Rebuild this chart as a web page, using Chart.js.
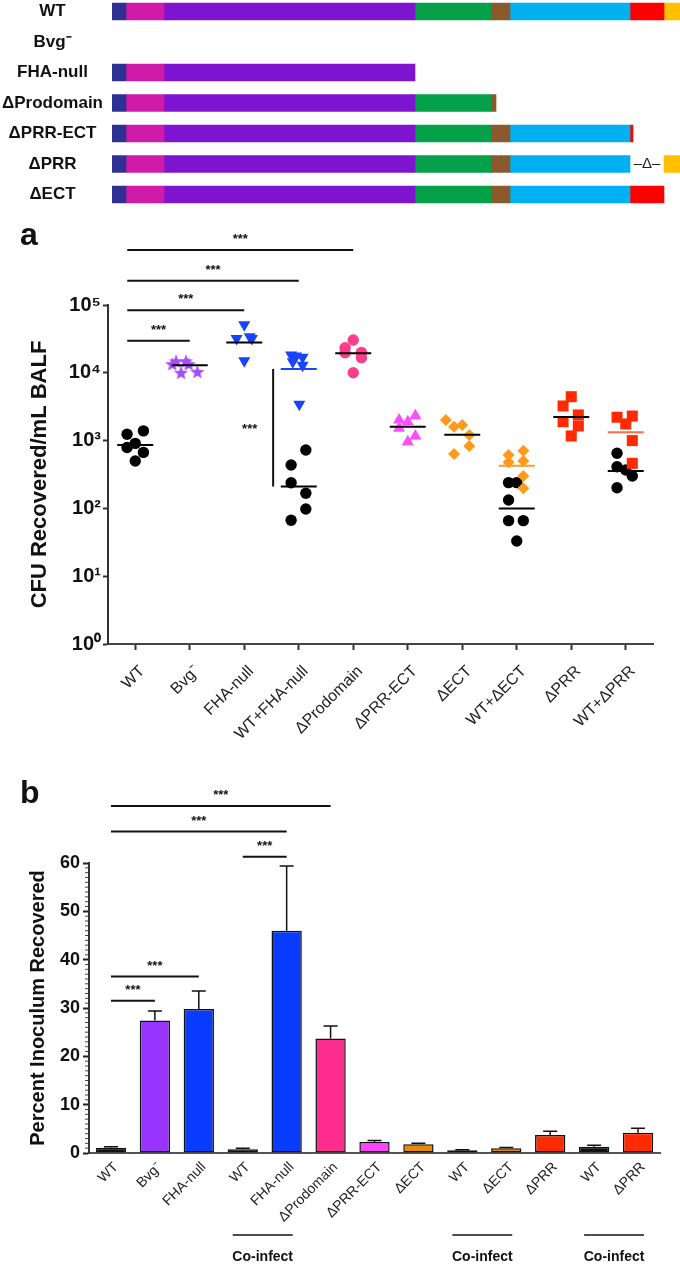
<!DOCTYPE html>
<html>
<head>
<meta charset="utf-8">
<script src="https://cdn.jsdelivr.net/npm/chart.js@4.4.0/dist/chart.umd.min.js"></script>
<style>
  body { margin: 0; background: #fff; width: 680px; height: 1264px; position: relative; overflow: hidden; }
  .box { position: absolute; left: 0; width: 680px; }
  .letter { position: absolute; font: bold 32px Arial, "Liberation Sans", sans-serif; line-height: 32px; color: #111; }
</style>
</head>
<body>
<div class="box" style="top:-23px;height:252px"><canvas id="domainChart" width="680" height="252"></canvas></div>
<div class="box" style="top:210px;height:545px"><canvas id="cfuChart" width="680" height="545"></canvas></div>
<div class="box" style="top:760px;height:504px"><canvas id="percentChart" width="680" height="504"></canvas></div>
<div class="letter" style="left:20px;top:218px">a</div>
<div class="letter" style="left:20px;top:776px">b</div>
<script>
// ---- domain map (top) ----
const constructs = ['WT', 'Bvg⁻', 'FHA-null', 'ΔProdomain', 'ΔPRR-ECT', 'ΔPRR', 'ΔECT'];
const signalSeg = [14, 0, 14, 14, 14, 14, 14];
const tpsSeg    = [38, 0, 38, 38, 38, 38, 38];
const fhaSeg    = [251, 0, 251, 251, 251, 251, 251];
const mcdSeg    = [76, 0, 0, 76, 76, 76, 76];
const pntSeg    = [19, 0, 0, 5, 19, 19, 19];
const prodSeg   = [120, 0, 0, 0, 120, 120, 120];
const prrSeg    = [34, 0, 0, 0, 3, 34, 34];
const ectSeg    = [16, 0, 0, 0, 0, 16, 0];
const prrDeleted = [false, false, false, false, false, true, false];

// ---- panel a: CFU recovered / mL BALF ----
const cfuLabels = ['WT', 'Bvg⁻', 'FHA-null', 'WT+FHA-null', 'ΔProdomain', 'ΔPRR-ECT', 'ΔECT', 'WT+ΔECT', 'ΔPRR', 'WT+ΔPRR'];
const cfuTicks = [1, 10, 100, 1000, 10000, 100000];

const wtCfu = [1240, 1390, 790, 910, 670, 500];
const wtJit = [-0.15, 0.15, -0.15, 0, 0.15, 0];
const bvgCfu = [14800, 14800, 13400, 13400, 10000, 10300];
const bvgJit = [-0.25, -0.07, -0.32, -0.02, -0.16, 0.14];
const fhaCfu = [51000, 32000, 32000, 15000, 34000];
const fhaJit = [0, -0.14, 0.14, 0, 0.1];
const coFhaMutCfu = [18300, 17700, 16900, 14600, 12900, 3430];
const coFhaMutJit = [-0.14, -0.05, 0.07, -0.11, 0.07, 0.01];
const coFhaWtCfu = [727, 437, 239, 167, 98, 67];
const coFhaWtJit = [0.13, -0.14, -0.14, 0.13, 0.13, -0.14];
const prodCfu = [30500, 23400, 19800, 20000, 16700, 10000];
const prodJit = [0, -0.15, -0.15, 0.15, 0.15, 0];
const prrEctCfu = [2330, 2010, 1900, 1520, 1170, 964];
const prrEctJit = [0.14, -0.16, 0, -0.16, 0.14, 0];
const ectCfu = [2010, 1600, 1700, 1210, 832, 634];
const ectJit = [-0.3, -0.15, 0, 0.13, 0.13, -0.15];
const coEctMutCfu = [613, 709, 478, 500, 300, 198];
const coEctMutJit = [-0.15, 0.12, -0.15, 0.12, 0.12, 0.12];
const coEctWtCfu = [240, 240, 133, 66, 66, 33];
const coEctWtJit = [-0.15, 0, -0.15, -0.15, 0.12, 0];
const prrCfu = [4440, 3240, 2390, 1900, 1640, 1170];
const prrJit = [0, -0.15, 0.13, -0.15, 0.13, 0];
const coPrrMutCfu = [2210, 2300, 1760, 1000, 462];
const coPrrMutJit = [-0.16, 0.12, 0, 0.12, 0.12];
const coPrrWtCfu = [650, 412, 368, 300, 202];
const coPrrWtJit = [-0.16, -0.16, 0, 0.12, -0.16];

const cfuGroups  = [0, 1, 2, 3, 3, 4, 5, 6, 7, 7, 8, 9, 9];
const cfuMedians = [860, 12900, 28000, 11400, 210, 19400, 1600, 1220, 425, 100, 2230, 1325, 355];

// significance brackets (group from, group to, height in CFU)
const cfuSigFrom = [0, 0, 0, 0];
const cfuSigTo = [1, 2, 3, 4];
const cfuSigLevel = [29700, 84000, 228000, 650000];

// ---- panel b: percent inoculum recovered ----
const pctLabels = ['WT', 'Bvg⁻', 'FHA-null', 'WT', 'FHA-null', 'ΔProdomain', 'ΔPRR-ECT', 'ΔECT', 'WT', 'ΔECT', 'ΔPRR', 'WT', 'ΔPRR'];
const pctMeans = [1.1, 27.4, 29.8, 0.8, 46.0, 23.7, 2.3, 1.8, 0.55, 1.0, 3.7, 1.3, 4.2];
const pctSem   = [0.2, 2.0, 3.7, 0.2, 13.4, 2.6, 0.3, 0.2, 0.1, 0.15, 0.8, 0.3, 0.9];
const pctSigFrom = [0, 0, 3, 0, 0];
const pctSigTo = [5, 4, 4, 2, 1];
const pctSigLevel = [71.8, 66.5, 61.3, 36.5, 31.5];
const coInfectPairs = [[3, 4], [8, 9], [11, 12]];

Chart.defaults.font.family = 'Arial, "Liberation Sans", sans-serif';
Chart.defaults.color = '#111';
Chart.defaults.animation = false;
Chart.defaults.plugins.legend.display = false;
Chart.defaults.plugins.tooltip.enabled = false;

const domainColors = ['#2e3192', '#d01aa8', '#7f14d0', '#05a04a', '#8b5a2c', '#00b0f0', '#ff0000', '#ffc000'];
const domainNames = ['Signal', 'TPS', 'FHA', 'MCD', 'PNT', 'Prodomain', 'PRR', 'ECT'];
const domainSegments = [signalSeg, tpsSeg, fhaSeg, mcdSeg, pntSeg, prodSeg, prrSeg, ectSeg];

const gapLabel = {
    id: 'gapLabel',
    afterDatasetsDraw(chart) {
        const ctx = chart.ctx;
        const meta = chart.getDatasetMeta(6);
        prrDeleted.forEach((del, i) => {
            if (!del) return;
            const el = meta.data[i];
            ctx.save();
            ctx.font = '15px Arial, "Liberation Sans", sans-serif';
            ctx.fillStyle = '#222';
            ctx.textAlign = 'center';
            ctx.textBaseline = 'middle';
            ctx.fillText('–Δ–', (el.x + el.base) / 2, el.y);
            ctx.restore();
        });
    }
};

new Chart(document.getElementById('domainChart'), {
    type: 'bar',
    data: {
        labels: constructs,
        datasets: domainSegments.map((seg, k) => ({
            label: domainNames[k],
            data: seg.map(v => v === 0 ? null : v),
            backgroundColor: constructs.map((c, i) => (k === 6 && prrDeleted[i]) ? 'rgba(0,0,0,0)' : domainColors[k]),
            borderWidth: 0,
            barThickness: 17
        }))
    },
    options: {
        responsive: false,
        indexAxis: 'y',
        layout: { padding: 0 },
        scales: {
            x: { stacked: true, display: false, min: 0, max: 568 },
            y: {
                stacked: true,
                grid: { display: false, drawTicks: false },
                border: { display: false },
                ticks: { font: { size: 17, weight: 'bold' }, color: '#111', crossAlign: 'center', padding: 9 },
                afterFit: scale => { scale.width = 112; }
            }
        }
    },
    plugins: [gapLabel]
});

// ---- panel a ----
function starImage(color) {
    const c = document.createElement('canvas');
    c.width = 16; c.height = 16;
    const g = c.getContext('2d');
    g.beginPath();
    for (let i = 0; i < 10; i++) {
        const r = i % 2 === 0 ? 7.5 : 3.2;
        const a = -Math.PI / 2 + i * Math.PI / 5;
        g.lineTo(8 + r * Math.cos(a), 8.5 + r * Math.sin(a));
    }
    g.closePath();
    g.fillStyle = color;
    g.fill();
    return c;
}

const cfuSeries = [
    { values: wtCfu, jitter: wtJit, color: '#000000', shape: 'circle', median: '#000' },
    { values: bvgCfu, jitter: bvgJit, color: '#a64dff', shape: 'star', median: '#000' },
    { values: fhaCfu, jitter: fhaJit, color: '#1744ff', shape: 'down', median: '#000' },
    { values: coFhaMutCfu, jitter: coFhaMutJit, color: '#1744ff', shape: 'down', median: '#1744ff' },
    { values: coFhaWtCfu, jitter: coFhaWtJit, color: '#000000', shape: 'circle', median: '#000' },
    { values: prodCfu, jitter: prodJit, color: '#ff3d8b', shape: 'circle', median: '#000' },
    { values: prrEctCfu, jitter: prrEctJit, color: '#ff4dff', shape: 'triangle', median: '#000' },
    { values: ectCfu, jitter: ectJit, color: '#ff9a1a', shape: 'diamond', median: '#000' },
    { values: coEctMutCfu, jitter: coEctMutJit, color: '#ff9a1a', shape: 'diamond', median: '#ff9a1a' },
    { values: coEctWtCfu, jitter: coEctWtJit, color: '#000000', shape: 'circle', median: '#000' },
    { values: prrCfu, jitter: prrJit, color: '#ff2a00', shape: 'square', median: '#000' },
    { values: coPrrMutCfu, jitter: coPrrMutJit, color: '#ff2a00', shape: 'square', median: '#ff6a50' },
    { values: coPrrWtCfu, jitter: coPrrWtJit, color: '#000000', shape: 'circle', median: '#000' }
];

function pointOpts(s) {
    switch (s.shape) {
        case 'star': return { pointStyle: starImage(s.color), radius: 8 };
        case 'down': return { pointStyle: 'triangle', rotation: 180, radius: 7 };
        case 'triangle': return { pointStyle: 'triangle', rotation: 0, radius: 7 };
        case 'diamond': return { pointStyle: 'rectRot', rotation: 0, radius: 6 };
        case 'square': return { pointStyle: 'rect', rotation: 0, radius: 7.8 };
        default: return { pointStyle: 'circle', rotation: 0, radius: 5.7 };
    }
}

const sup = ['⁰', '¹', '²', '³', '⁴', '⁵'];

function drawStars(ctx, x, y) {
    ctx.save();
    ctx.font = 'bold 13px Arial, "Liberation Sans", sans-serif';
    ctx.fillStyle = '#111';
    ctx.textAlign = 'center';
    ctx.textBaseline = 'alphabetic';
    ctx.fillText('***', x, y);
    ctx.restore();
}

const cfuAnnotations = {
    id: 'cfuAnnotations',
    afterDatasetsDraw(chart) {
        const ctx = chart.ctx;
        const xs = chart.scales.x, ys = chart.scales.y;
        ctx.save();
        ctx.lineWidth = 2;
        cfuSeries.forEach((s, i) => {
            const y = ys.getPixelForValue(cfuMedians[i]);
            ctx.strokeStyle = s.median;
            ctx.beginPath();
            ctx.moveTo(xs.getPixelForValue(cfuGroups[i] - 0.33), y);
            ctx.lineTo(xs.getPixelForValue(cfuGroups[i] + 0.33), y);
            ctx.stroke();
        });
        ctx.restore();
    },
    afterDraw(chart) {
        const ctx = chart.ctx;
        const xs = chart.scales.x, ys = chart.scales.y;
        ctx.save();
        ctx.strokeStyle = '#111';
        ctx.lineWidth = 2;
        cfuSigLevel.forEach((lvl, k) => {
            const y = ys.getPixelForValue(lvl);
            const x0 = xs.getPixelForValue(cfuSigFrom[k]) - 8;
            const x1 = xs.getPixelForValue(cfuSigTo[k]);
            ctx.beginPath();
            ctx.moveTo(x0, y);
            ctx.lineTo(x1, y);
            ctx.stroke();
            drawStars(ctx, (x0 + x1) / 2, y - 7);
        });
        // WT vs FHA-null within the co-infection
        const top = cfuMedians[3], bottom = cfuMedians[4];
        const xv = xs.getPixelForValue(3 - 0.47);
        ctx.beginPath();
        ctx.moveTo(xv, ys.getPixelForValue(top));
        ctx.lineTo(xv, ys.getPixelForValue(bottom));
        ctx.stroke();
        drawStars(ctx, xs.getPixelForValue(3 - 0.9), ys.getPixelForValue(Math.sqrt(top * bottom)) + 5);
        ctx.restore();
    }
};

new Chart(document.getElementById('cfuChart'), {
    type: 'scatter',
    data: {
        datasets: cfuSeries.map((s, i) => {
            const p = pointOpts(s);
            return {
                data: s.values.map((v, j) => ({ x: cfuGroups[i] + s.jitter[j], y: v })),
                pointStyle: p.pointStyle,
                rotation: p.rotation,
                radius: p.radius,
                backgroundColor: s.color,
                borderColor: s.color,
                borderWidth: 0
            };
        })
    },
    options: {
        responsive: false,
        layout: { padding: { top: 95, right: 27, left: 0, bottom: 0 } },
        scales: {
            x: {
                type: 'linear',
                min: -0.5,
                max: 9.5,
                afterBuildTicks: scale => { scale.ticks = cfuLabels.map((_, i) => ({ value: i })); },
                ticks: {
                    autoSkip: false,
                    maxRotation: 45,
                    minRotation: 45,
                    font: { size: 16 },
                    color: '#222',
                    padding: 12,
                    labelOffset: 7,
                    callback: v => cfuLabels[v]
                },
                grid: { drawOnChartArea: false, tickLength: 6, tickColor: '#333', tickWidth: 2 },
                border: { color: '#444', width: 2 },
                afterFit: scale => { scale.height = 111; }
            },
            y: {
                type: 'logarithmic',
                min: 1,
                max: 100000,
                afterBuildTicks: scale => { scale.ticks = cfuTicks.map(v => ({ value: v })); },
                ticks: {
                    autoSkip: false,
                    font: { size: 20, weight: 'bold' },
                    color: '#111',
                    padding: 2,
                    callback: v => '10' + sup[Math.round(Math.log10(v))]
                },
                grid: { drawOnChartArea: false, tickLength: 5, tickColor: '#333', tickWidth: 2 },
                border: { color: '#333', width: 2 },
                title: {
                    display: true,
                    text: 'CFU Recovered/mL BALF',
                    font: { size: 22, weight: 'bold' },
                    color: '#111',
                    padding: { top: 27, bottom: 0 }
                },
                afterFit: scale => { scale.width = 108; }
            }
        }
    },
    plugins: [cfuAnnotations]
});

// ---- panel b ----
const pctColors = ['#111111', '#9933ff', '#0a3cff', '#111111', '#0a3cff', '#ff2d8f', '#ff44ff', '#e88a00', '#111111', '#e88a00', '#ff2a00', '#111111', '#ff2a00'];

const pctAnnotations = {
    id: 'pctAnnotations',
    afterDraw(chart) {
        const ctx = chart.ctx;
        const xs = chart.scales.x, ys = chart.scales.y;
        const meta = chart.getDatasetMeta(0);
        ctx.save();
        // error bars (upper only)
        ctx.strokeStyle = '#111';
        ctx.lineWidth = 1.5;
        meta.data.forEach((el, i) => {
            const yTop = ys.getPixelForValue(pctMeans[i] + pctSem[i]);
            ctx.beginPath();
            ctx.moveTo(el.x, el.y);
            ctx.lineTo(el.x, yTop);
            ctx.moveTo(el.x - 7, yTop);
            ctx.lineTo(el.x + 7, yTop);
            ctx.stroke();
        });
        // minor ticks
        ctx.lineWidth = 1;
        ctx.strokeStyle = '#444';
        for (let v = 1; v < 60; v++) {
            if (v % 10 === 0) continue;
            const y = ys.getPixelForValue(v);
            ctx.beginPath();
            ctx.moveTo(xs.left - 4, y);
            ctx.lineTo(xs.left - 1, y);
            ctx.stroke();
        }
        // significance brackets
        ctx.lineWidth = 2;
        ctx.strokeStyle = '#111';
        pctSigLevel.forEach((lvl, k) => {
            const y = ys.getPixelForValue(lvl);
            const x0 = xs.getPixelForValue(pctSigFrom[k]);
            const x1 = xs.getPixelForValue(pctSigTo[k]);
            ctx.beginPath();
            ctx.moveTo(x0, y);
            ctx.lineTo(x1, y);
            ctx.stroke();
            drawStars(ctx, (x0 + x1) / 2, y - 7);
        });
        // co-infection groups
        ctx.lineWidth = 1.5;
        coInfectPairs.forEach(pair => {
            const x0 = xs.getPixelForValue(pair[0]) - 10;
            const x1 = xs.getPixelForValue(pair[1]) + 6;
            ctx.beginPath();
            ctx.moveTo(x0, 475);
            ctx.lineTo(x1, 475);
            ctx.stroke();
            ctx.font = 'bold 14px Arial, "Liberation Sans", sans-serif';
            ctx.fillStyle = '#111';
            ctx.textAlign = 'center';
            ctx.textBaseline = 'alphabetic';
            ctx.fillText('Co-infect', (x0 + x1) / 2, 501);
        });
        ctx.restore();
    }
};

new Chart(document.getElementById('percentChart'), {
    type: 'bar',
    data: {
        labels: pctLabels,
        datasets: [{
            data: pctMeans,
            backgroundColor: pctColors,
            borderColor: '#111',
            borderWidth: 1.5,
            borderSkipped: false,
            barPercentage: 0.69,
            categoryPercentage: 1
        }]
    },
    options: {
        responsive: false,
        layout: { padding: { top: 103, right: 20, left: 0, bottom: 0 } },
        scales: {
            x: {
                ticks: { autoSkip: false, maxRotation: 45, minRotation: 45, font: { size: 14 }, color: '#222', padding: 6, labelOffset: 5 },
                grid: { display: false, drawTicks: false },
                border: { color: '#555', width: 2 },
                afterFit: scale => { scale.height = 111; }
            },
            y: {
                min: 0,
                max: 60,
                ticks: { stepSize: 10, font: { size: 18, weight: 'bold' }, color: '#111', padding: 3 },
                grid: { drawOnChartArea: false, tickLength: 6, tickColor: '#222', tickWidth: 2 },
                border: { color: '#333', width: 2 },
                title: {
                    display: true,
                    text: 'Percent Inoculum Recovered',
                    font: { size: 20, weight: 'bold' },
                    color: '#111',
                    padding: { top: 26, bottom: 0 }
                },
                afterFit: scale => { scale.width = 89; }
            }
        }
    },
    plugins: [pctAnnotations]
});
</script>
</body>
</html>
